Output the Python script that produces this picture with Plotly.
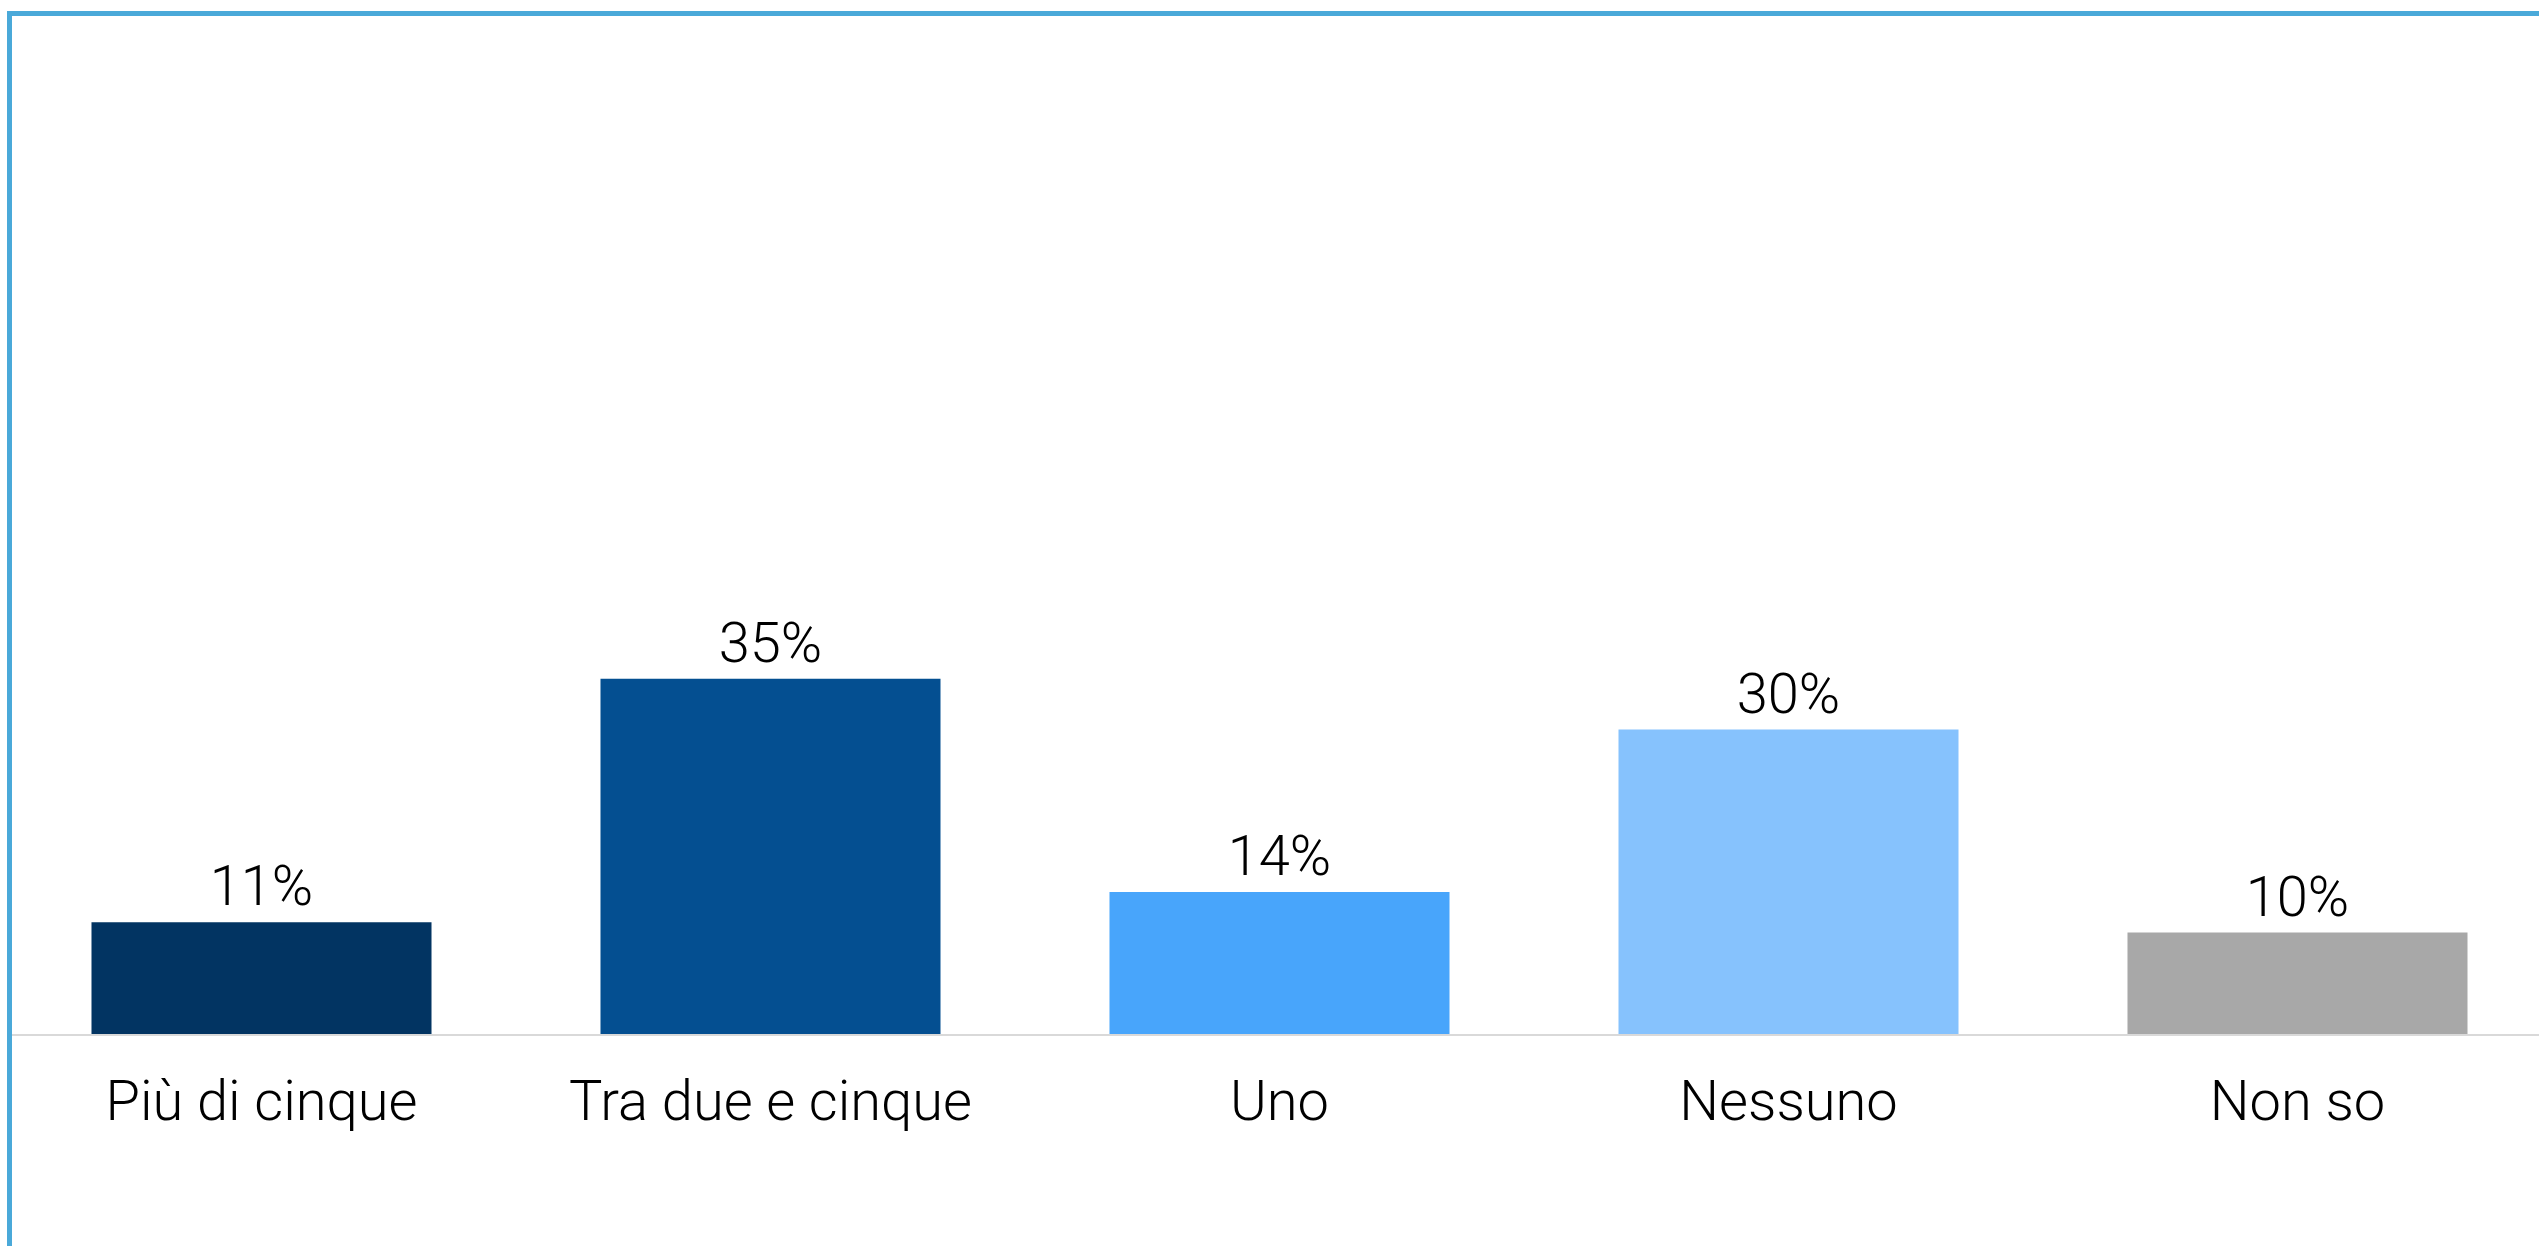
import plotly.graph_objects as go

# Data
categories = ["Più di cinque", "Tra due e cinque", "Uno", "Nessuno", "Non so"]
values = [11, 35, 14, 30, 10]
labels = ["11%", "35%", "14%", "30%", "10%"]
bar_colors = ["#023462", "#044F91", "#48A5FB", "#86C2FD", "#A8A8A8"]

W, H = 2539, 1246
L, R, T, B = 7, 0, 19, 212
plot_w = W - L - R
plot_h = H - T - B

def px_x(px):
    return (px - L) / plot_w

def px_y(py):
    return (H - B - py) / plot_h

font_main = dict(family="Roboto", size=56, color="#000000", weight=300)

fig = go.Figure(
    go.Bar(
        x=categories,
        y=values,
        text=labels,
        textposition="outside",
        textfont=font_main,
        marker=dict(color=bar_colors, line=dict(width=0)),
        cliponaxis=False,
        hoverinfo="skip",
    )
)

border = "#4AA9D9"
fig.update_layout(
    width=W,
    height=H,
    margin=dict(l=L, r=R, t=T, b=B, pad=0),
    paper_bgcolor="white",
    plot_bgcolor="white",
    bargap=0.332,
    showlegend=False,
    font=font_main,
    shapes=[
        # top frame line
        dict(type="line", xref="paper", yref="paper",
             x0=px_x(7), x1=px_x(W + 5), y0=px_y(13.5), y1=px_y(13.5),
             line=dict(color=border, width=5)),
        # left frame line
        dict(type="line", xref="paper", yref="paper",
             x0=px_x(9.5), x1=px_x(9.5), y0=px_y(11), y1=px_y(H + 5),
             line=dict(color=border, width=5)),
    ],
)

fig.update_xaxes(
    range=[-0.5, -0.5 + plot_w / 509],
    showline=True,
    linecolor="#D9D9D9",
    linewidth=2,
    showgrid=False,
    ticks="",
    tickfont=font_main,
    ticklabelstandoff=17,
)
fig.update_yaxes(
    range=[0, 100],
    visible=False,
    showgrid=False,
    zeroline=False,
)

# remove the default body margin so the figure sits at the page origin
fig.write_html(
    "out.html",
    config={"displayModeBar": False},
    post_script="document.body.style.margin='0px';document.body.style.overflow='hidden';",
)
